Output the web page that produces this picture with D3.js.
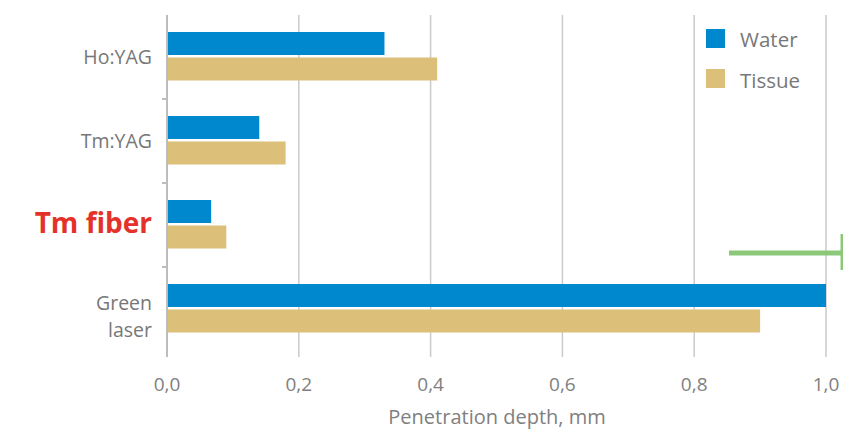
<!DOCTYPE html>
<html>
<head>
<meta charset="utf-8">
<script src="https://cdn.jsdelivr.net/npm/d3@7"></script>
<style>
  body { margin: 0; background: #fff; }
  text { font-family: "Open Sans", sans-serif; }
</style>
</head>
<body>
<script>
(function () {

    //chart data
    var categories = ["Ho:YAG", "Tm:YAG", "Tm fiber", "Green laser"];
    var water = [0.33, 0.14, 0.067, 1.0];
    var tissue = [0.41, 0.18, 0.09, 0.90];
    var xTicks = [0, 0.2, 0.4, 0.6, 0.8, 1.0];
    var seriesNames = ["Water", "Tissue"];

    var width = 843, height = 430;
    var colors = ["#0088cf", "#dcc07a"];

    var svg = d3.select("body").append("svg")
        .attr("width", width)
        .attr("height", height);

    var x = d3.scaleLinear().domain([0, 1]).range([167, 826]);
    var y = d3.scaleBand().domain(categories).range([15, 351]);

    //vertical grid lines
    svg.selectAll(".grid")
        .data(xTicks.slice(1))
        .enter().append("line")
        .attr("x1", function (d) { return x(d); })
        .attr("x2", function (d) { return x(d); })
        .attr("y1", 15).attr("y2", 357)
        .attr("stroke", "#cacaca")
        .attr("stroke-width", 1.5);

    //bars
    var series = [water, tissue];
    series.forEach(function (vals, s) {
        svg.selectAll(".bar" + s)
            .data(categories)
            .enter().append("rect")
            .attr("x", x(0))
            .attr("y", function (d) { return y(d) + 17 + s * 25.5; })
            .attr("width", function (d, i) { return x(vals[i]) - x(0); })
            .attr("height", 23)
            .attr("fill", colors[s]);
    });

    //left axis line and ticks
    svg.append("line")
        .attr("x1", x(0)).attr("x2", x(0))
        .attr("y1", 15).attr("y2", 357)
        .attr("stroke", "#bdbdbd").attr("stroke-width", 2);
    svg.selectAll(".ytick")
        .data(categories.slice(1))
        .enter().append("line")
        .attr("x1", x(0) - 5).attr("x2", x(0))
        .attr("y1", function (d) { return y(d); })
        .attr("y2", function (d) { return y(d); })
        .attr("stroke", "#bdbdbd").attr("stroke-width", 2);

    //category labels
    svg.selectAll(".ylab")
        .data(categories)
        .enter().append("text")
        .attr("text-anchor", "end")
        .attr("x", 152)
        .attr("font-size", function (d) { return d == "Tm fiber" ? 28 : 19.5; })
        .attr("font-weight", function (d) { return d == "Tm fiber" ? "bold" : "normal"; })
        .attr("fill", function (d) { return d == "Tm fiber" ? "#e4322b" : "#777"; })
        .each(function (d) {
            var t = d3.select(this);
            var mid = y(d) + y.bandwidth() / 2;
            if (d == "Green laser") {
                t.append("tspan").attr("x", 152).attr("y", mid + 1).text("Green");
                t.append("tspan").attr("x", 152).attr("y", mid + 28).text("laser");
            } else {
                t.attr("y", mid + (d == "Tm fiber" ? 8 : 7)).text(d);
            }
        });

    //x tick labels
    svg.selectAll(".xlab")
        .data(xTicks)
        .enter().append("text")
        .attr("x", function (d) { return x(d); })
        .attr("y", 391)
        .attr("text-anchor", "middle")
        .attr("font-size", 19)
        .attr("fill", "#808080")
        .text(function (d) { return d3.format(".1f")(d).replace(".", ","); });

    svg.append("text")
        .attr("x", 497).attr("y", 424)
        .attr("text-anchor", "middle")
        .attr("font-size", 20)
        .attr("fill", "#808080")
        .text("Penetration depth, mm");

    //legend
    seriesNames.forEach(function (name, i) {
        svg.append("rect")
            .attr("x", 706).attr("y", 29 + i * 40)
            .attr("width", 19).attr("height", 19)
            .attr("fill", colors[i]);
        svg.append("text")
            .attr("x", 740).attr("y", 47 + i * 41)
            .attr("font-size", 20.5)
            .attr("fill", "#777")
            .text(name);
    });

    //green marker line
    svg.append("line")
        .attr("x1", 729).attr("x2", 842)
        .attr("y1", 253).attr("y2", 253)
        .attr("stroke", "#8cc87a").attr("stroke-width", 5);
    svg.append("line")
        .attr("x1", 842).attr("x2", 842)
        .attr("y1", 234).attr("y2", 270)
        .attr("stroke", "#8cc87a").attr("stroke-width", 3);

})();
</script>
</body>
</html>
